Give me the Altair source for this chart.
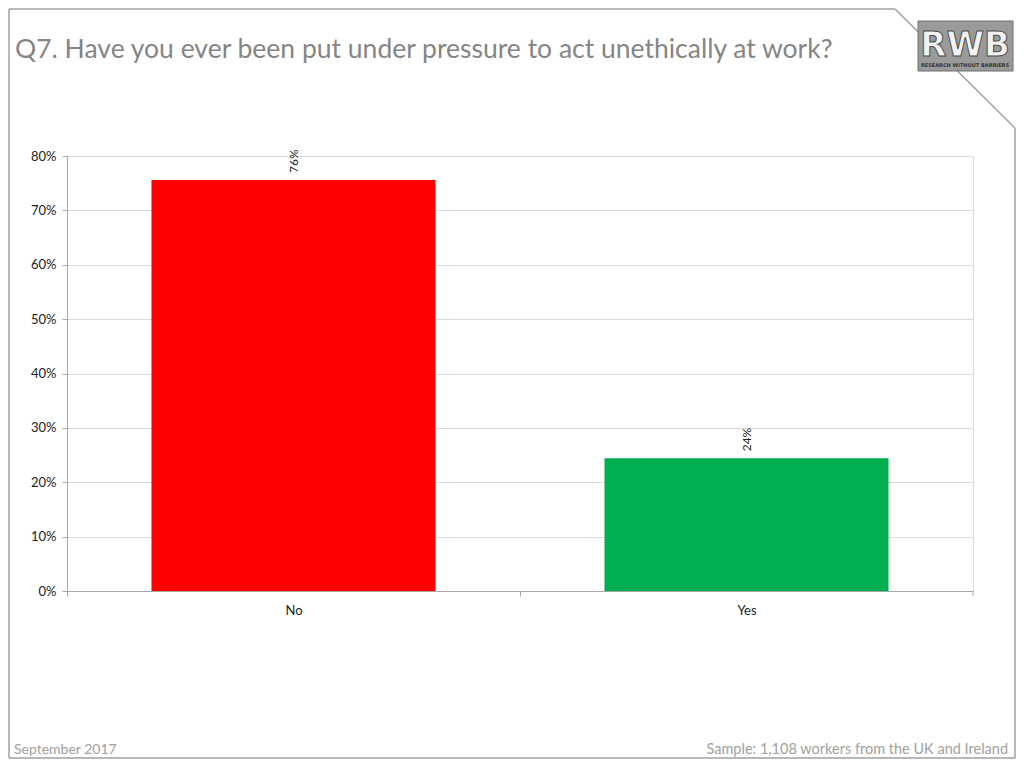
import altair as alt
import pandas as pd

categories = ["No", "Yes"]
values = [75.6, 24.4]
labels = ["76%", "24%"]
colors = ["#ff0000", "#00b050"]

title_text = "Q7. Have you ever been put under pressure to act unethically at work?"
footer_left = "September 2017"
footer_right = "Sample: 1,108 workers from the UK and Ireland"

df = pd.DataFrame({"answer": categories, "pct": values, "label": labels, "color": colors})

FONT = "Lato"
W, H = 906, 435
STEP = W / 2

x_enc = alt.X("answer:N", sort=categories, title=None,
              scale=alt.Scale(paddingInner=0.373, paddingOuter=0.1865),
              axis=alt.Axis(labelAngle=0, labelPadding=8, labelFontSize=13,
                            labelColor="#222222", labelFont=FONT,
                            domainColor="#a6a6a6", tickColor="#a6a6a6",
                            tickOffset=-STEP / 2, labelOffset=STEP / 2,
                            tickSize=5, grid=False))
y_enc = alt.Y("pct:Q", title=None,
              scale=alt.Scale(domain=[0, 80]),
              axis=alt.Axis(values=[0, 10, 20, 30, 40, 50, 60, 70, 80],
                            labelExpr="datum.value + '%'",
                            labelFontSize=13, labelColor="#222222", labelFont=FONT,
                            labelPadding=6,
                            domainColor="#a6a6a6", tickColor="#a6a6a6", tickSize=5,
                            gridColor="#d9d9d9", gridWidth=1))

base = alt.Chart(df)

bars = base.mark_bar().encode(
    x=x_enc, y=y_enc,
    color=alt.Color("color:N", scale=None, legend=None),
)

bar_labels = base.mark_text(angle=270, align="left", baseline="middle", dx=7,
                            font=FONT, fontSize=12, color="#222222").encode(
    x=alt.X("answer:N", sort=categories),
    y=alt.Y("pct:Q"),
    text="label:N",
)

# page (X, Y) -> plot coordinates (X-67, Y-156)
def px(X):
    return X - 67

def py(Y):
    return Y - 156

one = pd.DataFrame({"k": [0]})
frame_color = "#a0a0a0"

def seg(x1, y1, x2, y2, color=frame_color, w=1.5):
    return alt.Chart(one).mark_rule(color=color, strokeWidth=w).encode(
        x=alt.value(px(x1)), y=alt.value(py(y1)),
        x2=alt.value(px(x2)), y2=alt.value(py(y2)))

frame = [
    seg(9, 9, 895, 9),
    seg(895, 9, 1015, 128),
    seg(1015, 128, 1015, 758),
    seg(9, 758, 1015, 758),
    seg(9, 9, 9, 758),
]

end_tick = seg(973, 591, 973, 596, color="#a6a6a6", w=1)

logo_bg = alt.Chart(one).mark_rect(color="#9a9a9a", stroke="#6e6e6e", strokeWidth=1).encode(
    x=alt.value(px(918)), x2=alt.value(px(1013)),
    y=alt.value(py(21)), y2=alt.value(py(71)))
logo_text = alt.Chart(one).mark_text(text="RWB", font="DejaVu Sans", fontWeight="bold",
                                     fontSize=34, color="#f2f2f2", stroke="#4d4d4d",
                                     strokeWidth=1, align="center", baseline="alphabetic").encode(
    x=alt.value(px(965)), y=alt.value(py(56)))
logo_sub = alt.Chart(one).mark_text(text="RESEARCH WITHOUT BARRIERS", font="DejaVu Sans",
                                    fontWeight="bold", fontSize=5, color="#333333",
                                    align="center", baseline="middle").encode(
    x=alt.value(px(965)), y=alt.value(py(65)))

title = alt.Chart(one).mark_text(text=title_text, font=FONT, fontSize=26.5, color="#858585",
                                 align="left", baseline="middle").encode(
    x=alt.value(px(15)), y=alt.value(py(50)))
foot_l = alt.Chart(one).mark_text(text=footer_left, font=FONT, fontSize=14, color="#a0a0a0",
                                  align="left", baseline="middle").encode(
    x=alt.value(px(14)), y=alt.value(py(750)))
foot_r = alt.Chart(one).mark_text(text=footer_right, font=FONT, fontSize=14.5, color="#a0a0a0",
                                  align="right", baseline="middle").encode(
    x=alt.value(px(1008)), y=alt.value(py(750)))

chart = alt.layer(bars, bar_labels, end_tick, *frame, logo_bg, logo_text, logo_sub,
                  title, foot_l, foot_r).properties(
    width=W, height=H,
    autosize=alt.AutoSizeParams(type="none"),
    padding={"left": 59, "top": 148, "right": 43, "bottom": 168},
).configure_view(stroke=None).configure(background="white")

chart.save("out.html", embed_options={"renderer": "svg", "actions": False})
